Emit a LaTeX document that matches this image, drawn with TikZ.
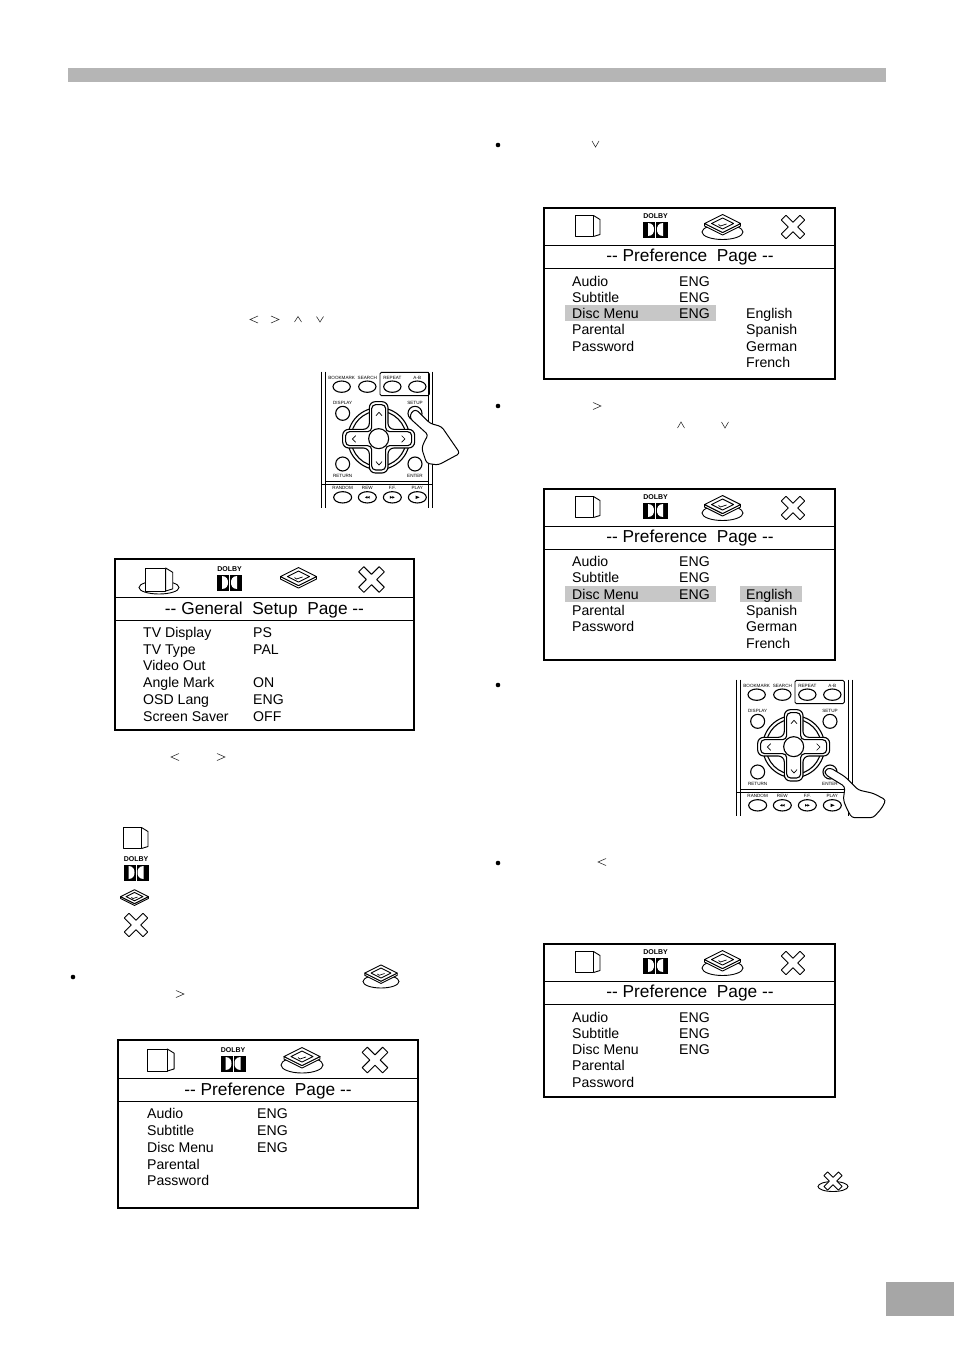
\documentclass[tikz,border=0pt]{standalone}
\usepackage{fontspec}
\setmainfont{Liberation Sans}
\newcommand{\fsz}[1]{\fontsize{#1}{#1}\selectfont}
\tikzset{
  rowtxt/.style={anchor=base west,inner sep=0pt,font=\fsz{14.1}},
  titletxt/.style={anchor=base,inner sep=0pt,font=\fsz{17.3}},
  tiny/.style={inner sep=0pt,font=\fsz{4.6}},
  frame/.style={draw=black,line width=1.6pt},
  sep/.style={draw=black,line width=0.8pt},
  glyph/.style={draw=black!85,line width=0.55pt},
  icon/.style={draw=black,line width=0.9pt,fill=white,line join=round},
  rm/.style={draw=black,line width=1.1pt,fill=white},
  hl/.style={fill=black!22,draw=none}
}
% icons: centre x, centre y, scale
\newcommand{\IconPage}[3]{\begin{scope}[shift={(#1,#2)},scale=#3]
  \path[icon] (6,-10.5) -- (12.5,-6.5) -- (12.5,8.5) -- (6,10.5) -- cycle;
  \path[icon] (-12.5,-10.5) rectangle (6,10.5);
\end{scope}}
\newcommand{\IconDolby}[3]{\begin{scope}[shift={(#1,#2)},scale=#3]
  \node[inner sep=0pt,font=\fsz{7}\bfseries,transform shape] at (0,-9.5) {DOLBY};
  \fill[black] (-12.5,-4.5) rectangle (-0.5,11.5);
  \fill[black] (0.5,-4.5) rectangle (12.5,11.5);
  \fill[white] (-7.5,-3) .. controls (-2.5,-3) and (-1.5,1) .. (-1.5,3.5) .. controls (-1.5,6) and (-2.5,10) .. (-7.5,10) -- cycle;
  \fill[white] (7.5,-3) .. controls (2.5,-3) and (1.5,1) .. (1.5,3.5) .. controls (1.5,6) and (2.5,10) .. (7.5,10) -- cycle;
\end{scope}}
\newcommand{\IconDisc}[3]{\begin{scope}[shift={(#1,#2)},scale=#3]
  \path[icon] (-18,-0.5) -- (0,8.5) -- (18,-0.5) -- (18,2) -- (0,11) -- (-18,2) -- cycle;
  \path[icon] (0,-9.5) -- (18,-0.5) -- (0,8.5) -- (-18,-0.5) -- cycle;
  \path[icon] (0,-6) -- (11,-0.5) -- (0,5) -- (-11,-0.5) -- cycle;
  \draw[black,line width=0.7pt] (-4,0.5) -- (-2,2) -- (4,0);
\end{scope}}
\newcommand{\IconX}[3]{\begin{scope}[shift={(#1,#2)},scale=#3,rotate=45]
  \path[icon] (-3.3,-13.2) -- (3.3,-13.2) -- (3.3,-3.3) -- (13.2,-3.3) -- (13.2,3.3) -- (3.3,3.3) -- (3.3,13.2) -- (-3.3,13.2) -- (-3.3,3.3) -- (-13.2,3.3) -- (-13.2,-3.3) -- (-3.3,-3.3) -- cycle;
\end{scope}}
\newcommand{\Plate}[4]{\draw[black,line width=0.9pt,fill=white] (#1,#2) ellipse [x radius=#3,y radius=#4];}
% rows
\newcommand{\RowT}[3]{\node[rowtxt] at (#1,#2+5) {#3};}
\newcommand{\PrefRows}[3]{%x-label,x-value,y-first
  \RowT{#1}{#3}{Audio}\RowT{#2}{#3}{ENG}
  \RowT{#1}{#3+16.4}{Subtitle}\RowT{#2}{#3+16.4}{ENG}
  \RowT{#1}{#3+32.8}{Disc Menu}\RowT{#2}{#3+32.8}{ENG}
  \RowT{#1}{#3+48.9}{Parental}
  \RowT{#1}{#3+65.2}{Password}}
\newcommand{\LangRows}[2]{\RowT{#1}{#2}{English}\RowT{#1}{#2+16.4}{Spanish}\RowT{#1}{#2+32.8}{German}\RowT{#1}{#2+49}{French}}
% remote: origin x, origin y, right rail offset
\newcommand{\Remote}[3]{\begin{scope}[shift={(#1,#2)},scale=0.3333]
  \draw[black,line width=1pt] (35,20) -- (35,430) (47,20) -- (47,430) (#3,20) -- (#3,430) (#3+13,20) -- (#3+13,430);
  \draw[black,line width=0.8pt] (47,350) -- (#3,350);
  \draw[black,line width=1.2pt] (35,358) -- (#3+13,358);
  \draw[black,line width=0.9pt,rounded corners=1.5pt] (210,22) rectangle (358,92);
  \foreach \a/\l in {95/BOOKMARK,172/SEARCH,247/REPEAT,322/A-B}{
    \path[rm] (\a,65) ellipse [x radius=26,y radius=17];
    \node[tiny] at (\a,38) {\l};}
  \foreach \a/\b/\l in {98/145/DISPLAY,315/145/SETUP}{
    \path[rm] (\a,\b) circle [radius=21];
    \node[tiny] at (\a,113) {\l};}
  \foreach \a/\b/\l in {98/297/RETURN,315/297/ENTER}{
    \path[rm] (\a,\b) circle [radius=21];
    \node[tiny] at (\a,332) {\l};}
  \path[rm] (206,221) circle [radius=93];
  \path[rm] (206,221) circle [radius=83];
  \path[rm,rounded corners=6pt] (178,110) -- (234,110) -- (234,193) -- (314,193) -- (314,249) -- (234,249) -- (234,324) -- (178,324) -- (178,249) -- (98,249) -- (98,193) -- (178,193) -- cycle;
  \path[rm,rounded corners=4pt] (185,119) -- (227,119) -- (227,200) -- (305,200) -- (305,242) -- (227,242) -- (227,315) -- (185,315) -- (185,242) -- (107,242) -- (107,200) -- (185,200) -- cycle;
  \path[rm] (206,221) circle [radius=30];
  \draw[black,line width=0.7pt] (198,152) -- (207,142) -- (216,152) (198,290) -- (207,300) -- (216,290) (137,212) -- (127,222) -- (137,232) (275,212) -- (285,222) -- (275,232);
  \foreach \a/\l in {98/RANDOM,172/REW,247/F.F.,322/PLAY}{
    \path[rm] (\a,397) ellipse [x radius=27,y radius=17];
    \node[tiny] at (\a,370) {\l};}
  \fill[black] (165,397) -- (172,393) -- (172,401) -- cycle (172,397) -- (179,393) -- (179,401) -- cycle;
  \fill[black] (240,393) -- (247,397) -- (240,401) -- cycle (247,393) -- (254,397) -- (247,401) -- cycle;
  \fill[black] (317,392) -- (329,397) -- (317,402) -- cycle;
\end{scope}}
\begin{document}
\begin{tikzpicture}[x=1pt,y=-1pt]
\useasboundingbox (0,0) rectangle (954,1351);
\fill[white] (0,0) rectangle (954,1351);
% page furniture
\fill[black!29] (68,68) rectangle (886,82);
\fill[black!35] (886,1282) rectangle (954,1316);
% loose bullets
\foreach \bx/\by in {73/977,498/145,498/406,498/685,498/863}{\fill[black] (\bx,\by) circle [radius=2.3];}
% loose carets
\draw[glyph] (258,316) -- (250,319.5) -- (258,323) (271,316) -- (279,319.5) -- (271,323)
  (294.5,322) -- (298,316.5) -- (301.5,322) (316.5,316.5) -- (320,322) -- (323.5,316.5)
  (179,753.5) -- (171,757) -- (179,760.5) (217,753.5) -- (225,757) -- (217,760.5)
  (176,990.5) -- (184,994) -- (176,997.5)
  (592,141) -- (595.5,147) -- (599,141)
  (593,402.5) -- (601,406) -- (593,409.5)
  (677.5,428) -- (681,422) -- (684.5,428) (721.5,422) -- (725,428) -- (728.5,422)
  (606,858.5) -- (598,862) -- (606,865.5);
% remotes
\Remote{310}{365}{355}
\Remote{725}{673}{370}
\begin{scope}[shift={(310,365)},scale=0.3333]
  \path[icon,line width=1pt,rounded corners=3pt] (300,160) -- (303,142) -- (318,133) -- (360,175) -- (395,185) -- (450,265) -- (385,300) -- (350,295) -- (335,250) -- (345,225) -- (355,210) -- cycle;
\end{scope}
\begin{scope}[shift={(730,675)},scale=0.3333]
  \path[icon,line width=1pt,rounded corners=3pt] (285,298) -- (285,285) -- (300,278) -- (345,305) -- (385,345) -- (430,355) -- (468,375) -- (455,400) -- (430,428) -- (365,428) -- (350,400) -- (340,375) -- (345,335) -- cycle;
\end{scope}
% general setup box
\path[frame] (115,559) rectangle (414,730);
\draw[sep] (115,597.5) -- (414,597.5) (115,620.5) -- (414,620.5);
\Plate{159}{587.5}{20}{6.5}
\IconPage{159}{579.5}{1.1}
\IconDolby{229.5}{579}{1}
\IconDisc{298.5}{577}{1}
\IconX{371.5}{579.5}{1.1}
\node[titletxt] at (264.5,614.5) {-{}- General\ \ Setup\ \ Page -{}-};
\foreach \ty/\a/\b in {632.5/TV Display/PS,649/TV Type/PAL,665.5/Video Out/,682.5/Angle Mark/ON,699/OSD Lang/ENG,716/Screen Saver/OFF}{
  \RowT{143}{\ty}{\a}\RowT{253}{\ty}{\b}}
% legend icons
\IconPage{135.5}{838}{1}
\IconDolby{136}{869}{1}
\IconDisc{134.5}{897}{0.77}
\IconX{136}{925}{1}
\Plate{381}{981.5}{18}{6.5}
\IconDisc{381}{973.5}{0.9}
% preference page, bottom left
\path[frame] (118,1040) rectangle (418,1208);
\draw[sep] (118,1078.5) -- (418,1078.5) (118,1101.5) -- (418,1101.5);
\IconPage{161}{1060}{1.05}
\IconDolby{233}{1060}{1}
\Plate{302}{1065}{21}{8}
\IconDisc{302}{1057}{1}
\IconX{375}{1060}{1.1}
\node[titletxt] at (268,1095.5) {-{}- Preference\ \ Page -{}-};
\foreach \ty/\a/\b in {1113/Audio/ENG,1130/Subtitle/ENG,1147/Disc Menu/ENG,1164/Parental/,1180.5/Password/}{
  \RowT{147}{\ty}{\a}\RowT{257}{\ty}{\b}}
% right column boxes
\foreach \ty in {208,489,944}{
  \IconPage{587.5}{\ty+18}{1}
  \IconDolby{655.5}{\ty+18}{1}
  \Plate{722.5}{\ty+24}{20.5}{7.5}
  \IconDisc{722.5}{\ty+16}{1}
  \IconX{793}{\ty+19}{1}
}
\path[hl] (565,305) rectangle (716,321);
\path[frame] (544,208) rectangle (835,379);
\draw[sep] (544,245) -- (835,245) (544,268) -- (835,268);
\node[titletxt] at (690,261.5) {-{}- Preference\ \ Page -{}-};
\PrefRows{572}{679}{281}
\LangRows{746}{313.5}
\path[hl] (565,586) rectangle (716,602);
\path[hl] (740,586) rectangle (802,602);
\path[frame] (544,489) rectangle (835,660);
\draw[sep] (544,526) -- (835,526) (544,549) -- (835,549);
\node[titletxt] at (690,542.5) {-{}- Preference\ \ Page -{}-};
\PrefRows{572}{679}{561.5}
\LangRows{746}{594}
\path[frame] (544,944) rectangle (835,1097);
\draw[sep] (544,981) -- (835,981) (544,1004) -- (835,1004);
\node[titletxt] at (690,997.5) {-{}- Preference\ \ Page -{}-};
\PrefRows{572}{679}{1017}
% X icon with plate, lower right
\Plate{833}{1186.5}{15}{5}
\IconX{833}{1181}{0.78}
\end{tikzpicture}
\end{document}
